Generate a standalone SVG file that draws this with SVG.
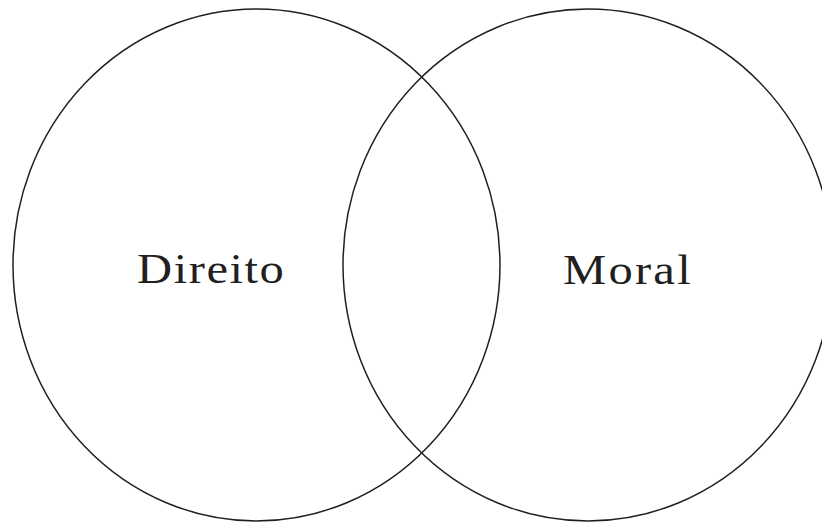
<svg xmlns="http://www.w3.org/2000/svg" width="822" height="522" viewBox="0 0 822 522">
<style>
.c{fill:none;stroke:#231f20;stroke-width:1.5}
.t{font-family:"Liberation Serif","Times New Roman",serif;font-size:43px;fill:#231f20}
</style>
<rect width="822" height="522" fill="#fff"/>
<g id="direito">
<ellipse class="c" cx="256.5" cy="265" rx="243.5" ry="256"/>
<text class="t" transform="translate(137,283) scale(1.13,1)" x="0" y="0" textLength="130" lengthAdjust="spacing">Direito</text>
</g>
<g id="moral">
<ellipse class="c" cx="588" cy="265" rx="245" ry="256"/>
<text class="t" transform="translate(563,284) scale(1.13,1)" x="0" y="0" textLength="113" lengthAdjust="spacing">Moral</text>
</g>
<g id="connectors"/>
</svg>
